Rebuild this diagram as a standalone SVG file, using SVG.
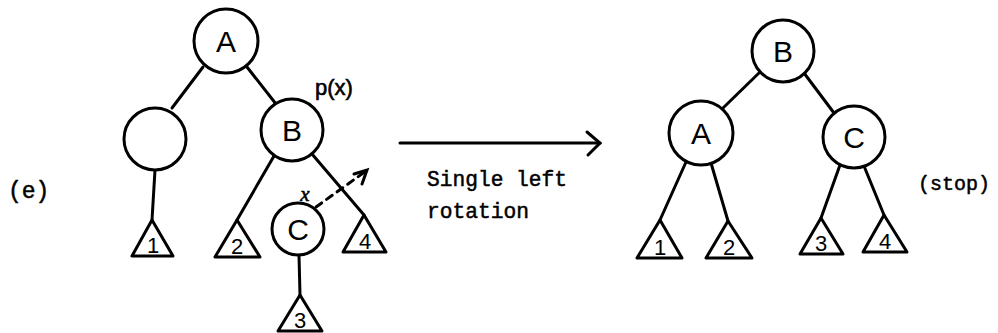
<svg xmlns="http://www.w3.org/2000/svg" width="998" height="333" viewBox="0 0 998 333">
<style>
.n{fill:#fff;stroke:#000;stroke-width:3}
.t{fill:#fff;stroke:#000;stroke-width:3;stroke-linejoin:round}
.e{stroke:#000;stroke-width:3;fill:none;stroke-linecap:round}
.lbl{font-family:"Liberation Sans",Arial,sans-serif;font-size:30px;text-anchor:middle;fill:#000}
.sl{font-family:"Liberation Sans",Arial,sans-serif;font-size:22px;text-anchor:middle;fill:#000}
.mono{font-family:"Liberation Mono","Courier New",monospace;fill:#000;stroke:#000;stroke-width:0.5}
</style>
<rect width="998" height="333" fill="#fff"/>
<g id="connectors">
<line class="e" x1="203" y1="67" x2="172" y2="108"/>
<line class="e" x1="247" y1="67" x2="276" y2="104"/>
<line class="e" x1="155" y1="170" x2="152" y2="220"/>
<line class="e" x1="274" y1="156" x2="237" y2="220"/>
<line class="e" x1="312" y1="154" x2="364" y2="215"/>
<line class="e" x1="299" y1="255" x2="300" y2="295"/>
<line class="e" x1="760" y1="72" x2="723" y2="108"/>
<line class="e" x1="804" y1="73" x2="834" y2="113"/>
<line class="e" x1="686" y1="162" x2="660" y2="220"/>
<line class="e" x1="711" y1="163" x2="728" y2="221"/>
<line class="e" x1="840" y1="165" x2="821" y2="218"/>
<line class="e" x1="864" y1="166" x2="884" y2="215"/>
<line class="e" x1="316" y1="207" x2="366" y2="171" stroke-dasharray="7 6" stroke-width="2.5"/>
<polyline class="e" points="354,174 367,170 362,184" stroke-width="2.5"/>
<line class="e" x1="400" y1="143" x2="600" y2="143"/>
<polyline class="e" points="587,132 600,143 588,155"/>
</g>
<g id="L_A"><circle class="n" cx="226" cy="41" r="32"/><text class="lbl" x="226" y="52">A</text></g>
<g id="L_empty"><circle class="n" cx="155" cy="139" r="31"/></g>
<g id="L_B"><circle class="n" cx="292" cy="130" r="31"/><text class="lbl" x="292" y="141">B</text></g>
<g id="L_px"><text x="334" y="95" font-family="Liberation Sans,Arial,sans-serif" font-size="22" text-anchor="middle" stroke="#000" stroke-width="0.6">p(x)</text></g>
<g id="L_C"><circle class="n" cx="298" cy="229" r="26"/><text class="lbl" x="298" y="240">C</text></g>
<g id="L_xmark"><text x="305" y="201" font-family="Liberation Serif,serif" font-style="italic" font-size="21" text-anchor="middle" stroke="#000" stroke-width="0.6">x</text></g>
<g id="L_t1"><polygon class="t" points="152,220 132,256 173,256"/><text class="sl" x="153" y="253">1</text></g>
<g id="L_t2"><polygon class="t" points="237,220 215,257 260,257"/><text class="sl" x="237" y="254">2</text></g>
<g id="L_t4"><polygon class="t" points="364,215 343,252 386,252"/><text class="sl" x="365" y="249">4</text></g>
<g id="L_t3"><polygon class="t" points="300,295 278,331 322,331"/><text class="sl" x="300" y="328">3</text></g>
<g id="R_B"><circle class="n" cx="783" cy="51" r="31"/><text class="lbl" x="783" y="62">B</text></g>
<g id="R_A"><circle class="n" cx="701" cy="133" r="32"/><text class="lbl" x="701" y="144">A</text></g>
<g id="R_C"><circle class="n" cx="854" cy="137" r="31"/><text class="lbl" x="854" y="148">C</text></g>
<g id="R_t1"><polygon class="t" points="660,220 637,258 682,258"/><text class="sl" x="660" y="255">1</text></g>
<g id="R_t2"><polygon class="t" points="728,221 706,258 752,258"/><text class="sl" x="729" y="255">2</text></g>
<g id="R_t3"><polygon class="t" points="821,218 800,254 843,254"/><text class="sl" x="821" y="251">3</text></g>
<g id="R_t4"><polygon class="t" points="884,215 863,252 907,252"/><text class="sl" x="885" y="249">4</text></g>
<g id="labels">
<text class="mono" x="8" y="198" font-size="23">(e)</text>
<text class="mono" x="427" y="186" font-size="22" textLength="140" lengthAdjust="spacingAndGlyphs">Single left</text>
<text class="mono" x="427" y="218" font-size="22" textLength="102" lengthAdjust="spacingAndGlyphs">rotation</text>
<text class="mono" x="918" y="190" font-size="20" textLength="72" lengthAdjust="spacingAndGlyphs">(stop)</text>
</g>
</svg>
